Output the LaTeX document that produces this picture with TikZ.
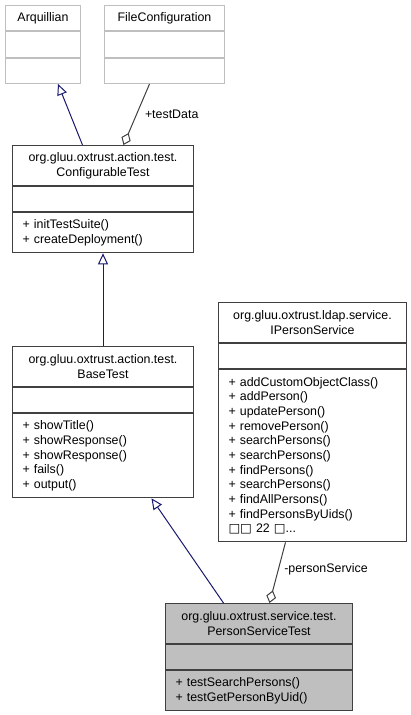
\documentclass[tikz,border=0pt]{standalone}
\usepackage{fontspec}
\setmainfont{Liberation Sans}
\newfontfamily\tofufont{DejaVu Sans}
\usepackage{tikz}
\usetikzlibrary{positioning}
\usetikzlibrary{arrows.meta}
\usepackage{xcolor}

\definecolor{boxline}{RGB}{64,64,64}
\definecolor{paleline}{RGB}{191,191,191}
\definecolor{inherit}{RGB}{25,25,112}
\definecolor{focusfill}{RGB}{191,191,191}
\newcommand{\umlfont}{\fontsize{12.4pt}{14.67pt}\selectfont}

\tikzset{
  cls/.style={draw=boxline, fill=white, line width=1pt, inner ysep=0pt, font=\umlfont},
  clshead/.style={cls, inner xsep=6pt, align=center},
  clsbody/.style={cls, inner xsep=10pt, align=left},
  pale/.style={draw=paleline},
  focus/.style={fill=focusfill},
  inh/.style={draw=inherit, line width=1pt, -{Triangle[open, length=11pt, width=10pt]}},
  aggr/.style={draw=boxline, line width=1pt, -{Diamond[open, length=13pt, width=10pt]}},
  lbl/.style={font=\umlfont, inner sep=0pt, anchor=west},
}

\begin{document}
\begin{tikzpicture}[x=1pt, y=-1pt, node distance=0pt]
    \useasboundingbox[fill=white] (0,0) rectangle (411,715);
    \node[clshead, pale, text width=63pt, minimum height=25.33pt, anchor=north west] (arq) at (5,5) {Arquillian};
    \node[clsbody, pale, text width=55pt, minimum height=25.33pt, below=of arq] (arq-attr) {};
    \node[clsbody, pale, text width=55pt, minimum height=25.33pt, below=of arq-attr] (arq-ops) {};

    \node[clshead, pale, text width=108pt, minimum height=25.33pt, anchor=north west] (fcfg) at (104,5) {FileConfiguration};
    \node[clsbody, pale, text width=100pt, minimum height=25.33pt, below=of fcfg] (fcfg-attr) {};
    \node[clsbody, pale, text width=100pt, minimum height=25.33pt, below=of fcfg-attr] (fcfg-ops) {};

    \node[clshead, text width=169pt, minimum height=40pt, anchor=north west] (cfg) at (12,145) {org.gluu.oxtrust.action.test.\\ConfigurableTest};
    \node[clsbody, text width=161pt, minimum height=25.33pt, below=of cfg] (cfg-attr) {};
    \node[clsbody, text width=161pt, minimum height=40pt, below=of cfg-attr] (cfg-ops) {+ initTestSuite()\\+ createDeployment()};

    \node[clshead, text width=169pt, minimum height=40pt, anchor=north west] (base) at (12,346) {org.gluu.oxtrust.action.test.\\BaseTest};
    \node[clsbody, text width=161pt, minimum height=25.33pt, below=of base] (base-attr) {};
    \node[clsbody, text width=161pt, minimum height=84pt, below=of base-attr] (base-ops) {+ showTitle()\\+ showResponse()\\+ showResponse()\\+ fails()\\+ output()};

    \node[clshead, text width=176pt, minimum height=40pt, anchor=north west] (ips) at (218,302) {org.gluu.oxtrust.ldap.service.\\IPersonService};
    \node[clsbody, text width=168pt, minimum height=25.33pt, below=of ips] (ips-attr) {};
    \node[clsbody, text width=168pt, minimum height=172pt, below=of ips-attr] (ips-ops) {+ addCustomObjectClass()\\+ addPerson()\\+ updatePerson()\\+ removePerson()\\+ searchPersons()\\+ searchPersons()\\+ findPersons()\\+ searchPersons()\\+ findAllPersons()\\+ findPersonsByUids()\\{\tofufont\char"25A1\char"25A1} 22 {\tofufont\char"25A1}...};

    \node[clshead, focus, text width=175pt, minimum height=40pt, anchor=north west] (pst) at (165,603) {org.gluu.oxtrust.service.test.\\PersonServiceTest};
    \node[clsbody, focus, text width=167pt, minimum height=25.33pt, below=of pst] (pst-attr) {};
    \node[clsbody, focus, text width=167pt, minimum height=40pt, below=of pst-attr] (pst-ops) {+ testSearchPersons()\\+ testGetPersonByUid()};

    % inheritance
    \draw[inh] ([xshift=-20.5pt]cfg.north) -- ([xshift=15pt]arq-ops.south);
    \draw[inh] (base.north) -- (cfg-ops.south);
    \draw[inh] ([xshift=-35.5pt]pst.north) -- ([xshift=48.5pt]base-ops.south);
    % usage
    \draw[aggr] ([xshift=-15pt]fcfg-ops.south) -- ([xshift=20.5pt]cfg.north)
        node[lbl, pos=0.5, xshift=8pt] (lbl-testdata) {+testData};
    \draw[aggr] ([xshift=-27pt]ips-ops.south) -- ([xshift=10.5pt]pst.north)
        node[lbl, pos=0.45, xshift=5.5pt] (lbl-service) {-personService};
\end{tikzpicture}
\end{document}
